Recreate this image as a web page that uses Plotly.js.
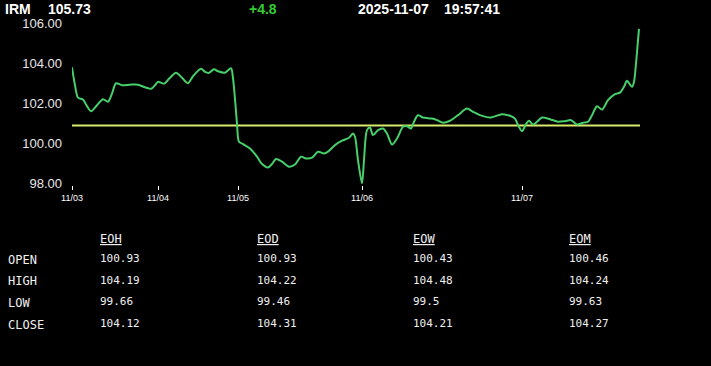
<!DOCTYPE html>
<html>
<head>
<meta charset="utf-8">
<script src="https://cdn.plot.ly/plotly-3.0.1.min.js"></script>
<style>
  html, body { margin: 0; padding: 0; background: #000; }
  #chart { width: 711px; height: 366px; }
</style>
</head>
<body>
<div id="chart"></div>
<script>
// ---------- data ----------
const symbol = 'IRM';
const lastPrice = '105.73';
const change = '+4.8';
const dateText = '2025-11-07';
const timeText = '19:57:41';

// session position (bar units) and price
const t = [0,1.5,3,5.5,7.5,9.5,12.5,15.5,18,20,22,25,29,33,36.5,39.5,41.5,43,46,49,52,55,58,60.5,64.5,66.5,68.5,
  71,73,76.5,79.5,80.5,81.5,82.5,83.5,85.5,89,92.5,95,98,100,102,105,108.5,111.5,114.5,117,120,123,126,128,131.5,135,138.5,
  140.5,141.5,143,145,146,147.5,149,150.5,153,155.5,157.5,160,162.5,165.5,167.5,169.5,171,173,175.5,180,182.5,185.5,189,193,197.5,200.5,204,209,
  215,219,221.5,223,225,227,228.5,230.5,232.5,235,239,243,246.5,249.5,252.5,255.5,258,260,262.5,265,268,271.5,274,276,277.5,280,281,282,283,283.5];
const price = [103.80,102.90,102.28,102.18,101.85,101.60,101.90,102.20,102.07,102.48,103.00,102.90,102.93,102.93,102.80,102.72,102.90,103.07,102.98,103.28,103.53,103.28,103.00,103.35,103.73,103.57,103.52,
  103.70,103.60,103.53,103.75,103.25,102.20,100.98,100.07,99.95,99.73,99.32,98.95,98.78,98.95,99.20,99.07,98.82,98.93,99.32,99.23,99.27,99.57,99.48,99.57,99.90,100.12,100.27,
  100.48,100.32,99.15,97.98,99.15,100.65,100.78,100.40,100.65,100.73,100.48,99.93,100.23,100.82,100.85,100.73,101.07,101.40,101.28,101.23,101.15,101.02,101.12,101.40,101.73,101.57,101.40,101.28,
  101.45,101.37,101.23,100.90,100.60,100.95,101.12,100.93,101.07,101.28,101.20,101.07,101.10,101.15,100.93,101.02,101.07,101.40,101.85,101.68,102.15,102.45,102.53,102.82,103.12,102.82,103.07,103.98,105.15,105.73];

const refLevel = 100.88;
const refSpan = [0, 284];

const tickPos = [0, 43, 83, 145, 225];
const tickLabels = ['11/03', '11/04', '11/05', '11/06', '11/07'];
const yTicks = [98, 100, 102, 104, 106];

const columns = ['EOH', 'EOD', 'EOW', 'EOM'];
const rowLabels = ['OPEN', 'HIGH', 'LOW', 'CLOSE'];
const colEOH = ['100.93', '104.19', '99.66', '104.12'];
const colEOD = ['100.93', '104.22', '99.46', '104.31'];
const colEOW = ['100.43', '104.48', '99.5', '104.21'];
const colEOM = ['100.46', '104.24', '99.63', '104.27'];
const tableValues = [colEOH, colEOD, colEOW, colEOM];

// ---------- layout helpers ----------
const W = 711, H = 366;
const L = 72, R = 640, T = 23, B = 185;
const px = x => (x - L) / (R - L);
const py = y => (B - y) / (B - T);

const annotations = [];
function addText(text, x, y, font, anchor) {
  annotations.push({
    text: text, xref: 'paper', yref: 'paper', x: px(x), y: py(y),
    xanchor: anchor || 'left', yanchor: 'middle', showarrow: false,
    font: font, borderpad: 0
  });
}
const headFont = { family: 'Liberation Sans, Arial, sans-serif', size: 14, color: '#ffffff', weight: 'bold' };
addText('<b>' + symbol + '</b>', 4, 9, headFont);
addText('<b>' + lastPrice + '</b>', 47, 9, headFont);
addText('<b>' + change + '</b>', 248, 9, Object.assign({}, headFont, { color: '#33cc33' }));
addText('<b>' + dateText + '</b>', 357, 9, headFont);
addText('<b>' + timeText + '</b>', 443, 9, headFont);

const monoFont = { family: 'DejaVu Sans Mono, monospace', size: 11, color: '#f0f0f0' };
const labelFont = { family: 'DejaVu Sans Mono, monospace', size: 12, color: '#f0f0f0' };
const colX = [99, 256, 412, 568];
const rowY = [259.5, 281, 302.5, 324.5];
columns.forEach((c, i) => addText('<u>' + c + '</u>', colX[i], 238.5, labelFont));
rowLabels.forEach((r, j) => addText(r, 7, rowY[j], labelFont));
tableValues.forEach((col, i) => col.forEach((v, j) => addText(v, colX[i], rowY[j] - 1, monoFont)));

// ---------- traces ----------
const traces = [
  {
    x: refSpan, y: [refLevel, refLevel], mode: 'lines', type: 'scatter',
    line: { color: '#d8ea6a', width: 2 }, hoverinfo: 'skip', cliponaxis: false
  },
  {
    x: t, y: price, mode: 'lines', type: 'scatter',
    line: { color: '#46cf6a', width: 2, shape: 'spline', smoothing: 0.8 },
    hoverinfo: 'skip', cliponaxis: false
  }
];

const layout = {
  width: W, height: H,
  paper_bgcolor: '#000000', plot_bgcolor: '#000000',
  margin: { l: L, r: W - R, t: T, b: H - B, pad: 0 },
  showlegend: false,
  xaxis: {
    range: [0, 284], showgrid: false, zeroline: false, showline: false,
    tickmode: 'array', tickvals: tickPos, ticktext: tickLabels,
    ticks: 'outside', ticklen: 4, tickwidth: 1, tickcolor: '#ffffff',
    tickfont: { family: 'Liberation Sans, Arial, sans-serif', size: 9, color: '#ffffff' },
    fixedrange: true
  },
  yaxis: {
    range: [97.9, 106.02], showgrid: false, zeroline: false, showline: false,
    tickmode: 'array', tickvals: yTicks, ticktext: yTicks.map(v => v.toFixed(2)),
    ticks: '', ticklabelstandoff: 9,
    tickfont: { family: 'Liberation Sans, Arial, sans-serif', size: 13, color: '#e6e6e6' },
    fixedrange: true
  },
  annotations: annotations
};

Plotly.newPlot('chart', traces, layout, { staticPlot: true, displayModeBar: false });
</script>
</body>
</html>
